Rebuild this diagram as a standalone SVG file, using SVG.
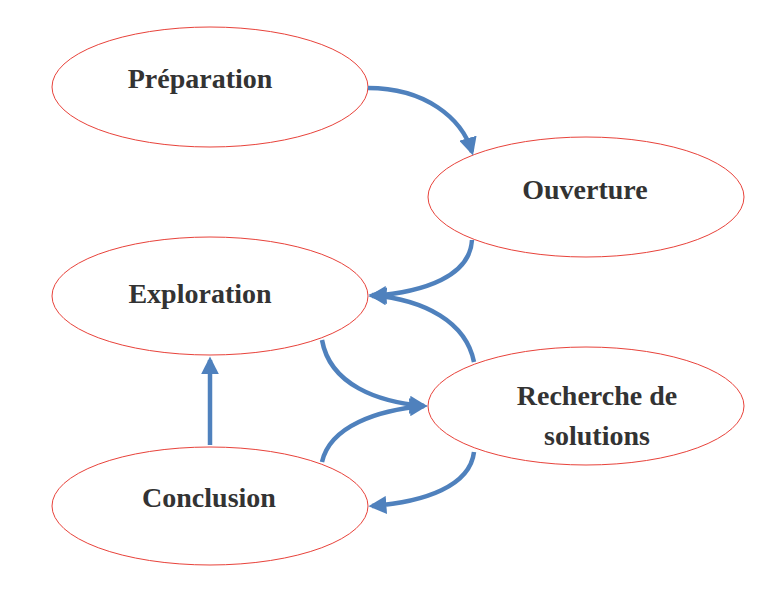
<svg xmlns="http://www.w3.org/2000/svg" width="773" height="593" viewBox="0 0 773 593">
<style>
.n ellipse{fill:#fff;stroke:#e8423a;stroke-width:1}
.n text{font-family:"Liberation Serif",serif;font-weight:bold;font-size:28px;fill:#333;text-anchor:middle}
.c path{fill:none;stroke:#4f81bd;stroke-width:4.5;marker-end:url(#a)}
</style>
<defs><marker id="a" viewBox="0 0 10 10" refX="8" refY="5" markerWidth="4" markerHeight="4" orient="auto" markerUnits="strokeWidth"><path d="M0,0L10,5L0,10z" fill="#4f81bd"/></marker></defs>
<rect width="773" height="593" fill="#fff"/>
<g id="preparation" class="n"><ellipse cx="210" cy="87" rx="158" ry="60"/><text x="200" y="88">Préparation</text></g>
<g id="ouverture" class="n"><ellipse cx="586" cy="197" rx="158" ry="60"/><text x="585" y="199">Ouverture</text></g>
<g id="exploration" class="n"><ellipse cx="210" cy="296" rx="158" ry="59"/><text x="200" y="303">Exploration</text></g>
<g id="recherche" class="n"><ellipse cx="586" cy="406" rx="158" ry="59"/><text x="597" y="405">Recherche de</text><text x="597" y="445">solutions</text></g>
<g id="conclusion" class="n"><ellipse cx="210" cy="506" rx="158" ry="59"/><text x="209" y="507">Conclusion</text></g>
<g id="connectors" class="c">
<path d="M368,88 C425,88 462,118 472,152"/>
<path d="M472,240 C470,276 425,292 372,296"/>
<path d="M474,362 C466,322 425,300 372,295"/>
<path d="M322,340 C330,385 378,402 424,406"/>
<path d="M322,462 C330,426 378,410 424,406"/>
<path d="M474,452 C470,486 425,502 372,506"/>
<path d="M210,445 L210,360"/>
</g>
</svg>
